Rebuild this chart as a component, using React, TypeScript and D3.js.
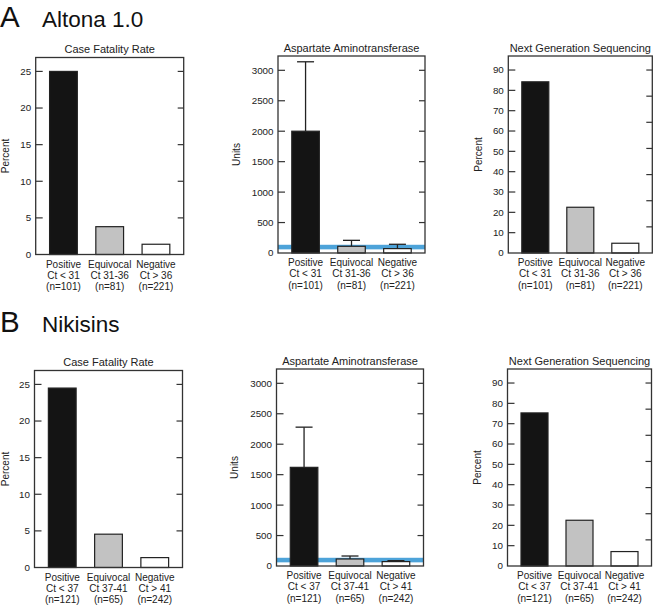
import React from "react";
import * as d3 from "d3";

const groupNames = ["Positive", "Equivocal", "Negative"];
const ctA = ["Ct < 31", "Ct 31-36", "Ct > 36"];
const nA = ["(n=101)", "(n=81)", "(n=221)"];
const ctB = ["Ct < 37", "Ct 37-41", "Ct > 41"];
const nB = ["(n=121)", "(n=65)", "(n=242)"];

const cfrA = [25, 3.8, 1.4];
const cfrB = [24.5, 4.55, 1.35];
const astA = [2000, 110, 72];
const astErrA = [3140, 208, 143];
const astB = [1620, 115, 72];
const astErrB = [2280, 164, 88];
const ngsA = [84.2, 22.5, 4.8];
const ngsB = [75.3, 22.5, 7.1];

const astNormalBand = [60, 135];

const cfrTicks = [0, 5, 10, 15, 20, 25];
const astTicks = [0, 500, 1000, 1500, 2000, 2500, 3000];
const ngsTicks = [0, 10, 20, 30, 40, 50, 60, 70, 80, 90];
const ngsRightTicks = [0, 1, 2, 3, 4, 5, 6, 7].map((i) => (90 * i) / 7);

const fills = ["#141414", "#c2c2c2", "#ffffff"];
const FONT = "'Liberation Sans', Arial, Helvetica, sans-serif";
const INK = "#222";

type PanelProps = {
  x: number;
  top: number;
  width: number;
  height: number;
  title: string;
  yLabel: string;
  yLabelOffset: number;
  yMax: number;
  ticks: number[];
  rightTicks: number[];
  values: number[];
  errors?: number[];
  band?: number[];
  cts: string[];
  ns: string[];
};

function Panel(p: PanelProps) {
  const bottom = p.top + p.height;
  const xs = d3
    .scaleBand<string>()
    .domain(groupNames)
    .range([p.x, p.x + p.width])
    .paddingInner(0.4)
    .paddingOuter(0.3);
  const ys = d3.scaleLinear().domain([0, p.yMax]).range([bottom, p.top]);
  const bw = xs.bandwidth();
  const cap = 17;
  return (
    <g>
      <text
        x={p.x + p.width / 2}
        y={p.top - 4.5}
        textAnchor="middle"
        fontSize={11}
        fill={INK}
      >
        {p.title}
      </text>
      {p.band && (
        <rect
          x={p.x}
          width={p.width}
          y={ys(p.band[1])}
          height={ys(p.band[0]) - ys(p.band[1])}
          fill="#4da3d9"
        />
      )}
      {p.values.map((v, i) => {
        const bx = xs(groupNames[i])!;
        const cx = bx + bw / 2;
        return (
          <g key={i}>
            {p.errors && (
              <g stroke={INK} strokeWidth={1.3}>
                <line x1={cx} x2={cx} y1={ys(v)} y2={ys(p.errors[i])} />
                <line
                  x1={cx - cap / 2}
                  x2={cx + cap / 2}
                  y1={ys(p.errors[i])}
                  y2={ys(p.errors[i])}
                />
              </g>
            )}
            <rect
              x={bx}
              width={bw}
              y={ys(v)}
              height={bottom - ys(v)}
              fill={fills[i]}
              stroke={INK}
              strokeWidth={1.2}
            />
          </g>
        );
      })}
      <rect
        x={p.x}
        y={p.top}
        width={p.width}
        height={p.height}
        fill="none"
        stroke="#333"
        strokeWidth={1.3}
      />
      {p.ticks.map((t) => (
        <g key={"l" + t}>
          {t > 0 && (
            <line
              x1={p.x}
              x2={p.x + 7}
              y1={ys(t)}
              y2={ys(t)}
              stroke="#333"
              strokeWidth={1.2}
            />
          )}
          <text
            x={p.x - 4.5}
            y={ys(t) + 3.4}
            textAnchor="end"
            fontSize={9.8}
            fill={INK}
          >
            {t}
          </text>
        </g>
      ))}
      {p.rightTicks
        .filter((t) => t > 0)
        .map((t) => (
          <line
            key={"r" + t}
            x1={p.x + p.width - 6}
            x2={p.x + p.width}
            y1={ys(t)}
            y2={ys(t)}
            stroke="#333"
            strokeWidth={1.2}
          />
        ))}
      <text
        transform={`translate(${p.x - p.yLabelOffset},${p.top + p.height / 2}) rotate(-90)`}
        textAnchor="middle"
        fontSize={10}
        fill={INK}
      >
        {p.yLabel}
      </text>
      {groupNames.map((g, i) => {
        const cx = xs(g)! + bw / 2;
        return (
          <text key={g} textAnchor="middle" fontSize={10} fill={INK}>
            <tspan x={cx} y={bottom + 13}>
              {g}
            </tspan>
            <tspan x={cx} y={bottom + 24.3}>
              {p.cts[i]}
            </tspan>
            <tspan x={cx} y={bottom + 35.6}>
              {p.ns[i]}
            </tspan>
          </text>
        );
      })}
    </g>
  );
}

export default function App() {
  const rows = [
    {
      letter: "A",
      name: "Altona 1.0",
      base: 26.7,
      top: 56,
      cfr: cfrA,
      ast: astA,
      astErr: astErrA,
      ngs: ngsA,
      cts: ctA,
      ns: nA,
    },
    {
      letter: "B",
      name: "Nikisins",
      base: 331.5,
      top: 369,
      cfr: cfrB,
      ast: astB,
      astErr: astErrB,
      ngs: ngsB,
      cts: ctB,
      ns: nB,
    },
  ];
  const H = 197;
  return (
    <svg
      width={658}
      height={607}
      style={{ position: "absolute", left: 0, top: 0, background: "#fff" }}
      fontFamily={FONT}
    >
      {rows.map((r, ri) => (
        <g key={r.letter}>
          <text x={0} y={r.base} fontSize={29.5} fill="#111">
            {r.letter}
          </text>
          <text x={42} y={r.base} fontSize={22.5} fill="#111">
            {r.name}
          </text>
          <Panel
            x={ri === 0 ? 35.7 : 34.5}
            top={r.top + 1.5}
            width={148}
            height={H}
            title="Case Fatality Rate"
            yLabel="Percent"
            yLabelOffset={ri === 0 ? 27.2 : 26}
            yMax={26.9}
            ticks={cfrTicks}
            rightTicks={cfrTicks}
            values={r.cfr}
            cts={r.cts}
            ns={r.ns}
          />
          <Panel
            x={ri === 0 ? 278 : 276.5}
            top={r.top}
            width={147}
            height={H}
            title="Aspartate Aminotransferase"
            yLabel="Units"
            yLabelOffset={38.3}
            yMax={3235}
            ticks={astTicks}
            rightTicks={astTicks}
            values={r.ast}
            errors={r.astErr}
            band={astNormalBand}
            cts={r.cts}
            ns={r.ns}
          />
          <Panel
            x={ri === 0 ? 508.3 : 507.5}
            top={r.top}
            width={144}
            height={H}
            title="Next Generation Sequencing"
            yLabel="Percent"
            yLabelOffset={26.8}
            yMax={96.9}
            ticks={ngsTicks}
            rightTicks={ngsRightTicks}
            values={r.ngs}
            cts={r.cts}
            ns={r.ns}
          />
        </g>
      ))}
    </svg>
  );
}
